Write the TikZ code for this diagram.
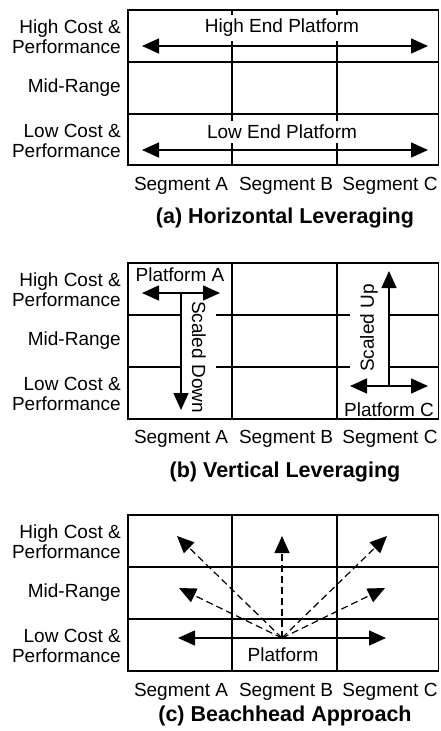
\documentclass[tikz,border=0pt]{standalone}
\usepackage{fontspec}
\setmainfont{Liberation Sans}
\usetikzlibrary{arrows.meta}
\tikzset{
    cell/.style={line width=1.6pt},
    twoway/.style={line width=1.4pt, {Triangle[length=17pt,width=15pt]}-{Triangle[length=17pt,width=15pt]}},
    oneway/.style={line width=1.4pt, -{Triangle[length=17pt,width=15pt]}},
    probe/.style={line width=1.2pt, dash pattern=on 7pt off 4pt, -{Triangle[length=17pt,width=15pt]}},
    rowlabel/.style={anchor=east, align=right, inner sep=0pt, font=\fontsize{19}{20}\selectfont},
    seglabel/.style={font=\fontsize{19}{20}\selectfont},
    tag/.style={fill=white, inner xsep=2pt, inner ysep=4pt, font=\fontsize{19}{20}\selectfont},
    panelname/.style={font=\fontsize{21.5}{24}\selectfont\bfseries},
}

\begin{document}
\begin{tikzpicture}[x=1pt, y=-1pt]
        \useasboundingbox (0,0) rectangle (440,731);
        %%% (a) horizontal leveraging
        %draw grid
        \draw[cell] (128,10) rectangle (438.5,165);
        \draw[cell] (232,10) -- (232,165);
        \draw[cell] (337,10) -- (337,165);
        \draw[cell] (128,62) -- (438.5,62);
        \draw[cell] (128,114) -- (438.5,114);
        %label rows
        \node[rowlabel] (ahigh) at (121,37) {High Cost \&\\Performance};
        \node[rowlabel] (amid) at (121,88) {Mid-Range};
        \node[rowlabel] (alow) at (121,141) {Low Cost \&\\Performance};
        %label columns
        \node[seglabel] (asega) at (181,186) {Segment A};
        \node[seglabel] (asegb) at (286,186) {Segment B};
        \node[seglabel] (asegc) at (390,186) {Segment C};
        %platforms
        \node[tag] (highend) at (282,28) {High End Platform};
        \node[tag] (lowend) at (282,132) {Low End Platform};
        \coordinate (hleft) at (142,46);
        \coordinate (hright) at (428,46);
        \coordinate (lleft) at (142,150);
        \coordinate (lright) at (428,150);
        \draw[twoway] (hleft) -- (hright);
        \draw[twoway] (lleft) -- (lright);
        \node[panelname] (acap) at (285,218) {(a) Horizontal Leveraging};

        %%% (b) vertical leveraging
        %draw grid
        \draw[cell] (128,263) rectangle (438.5,419);
        \draw[cell] (232,263) -- (232,419);
        \draw[cell] (337,263) -- (337,419);
        \draw[cell] (128,315) -- (438.5,315);
        \draw[cell] (128,367) -- (438.5,367);
        %label rows
        \node[rowlabel] (bhigh) at (121,290) {High Cost \&\\Performance};
        \node[rowlabel] (bmid) at (121,341) {Mid-Range};
        \node[rowlabel] (blow) at (121,394) {Low Cost \&\\Performance};
        %label columns
        \node[seglabel] (bsega) at (181,439) {Segment A};
        \node[seglabel] (bsegb) at (286,439) {Segment B};
        \node[seglabel] (bsegc) at (390,439) {Segment C};
        %platform A, scaled down
        \node[seglabel] (pfa) at (180,275) {Platform A};
        \node[tag, rotate=-90, inner ysep=10pt] (down) at (199,357) {Scaled Down};
        \coordinate (aleft) at (142,293);
        \coordinate (aright) at (220,293);
        \coordinate (amidtop) at (181,293);
        \coordinate (abottom) at (181,410);
        \draw[twoway] (aleft) -- (aright);
        \draw[oneway] (amidtop) -- (abottom);
        %platform C, scaled up
        \node[seglabel] (pfc) at (389,410) {Platform C};
        \node[tag, rotate=90, inner ysep=10pt] (up) at (369,328) {Scaled Up};
        \coordinate (cleft) at (350,386);
        \coordinate (cright) at (428,386);
        \coordinate (cmidbot) at (389,386);
        \coordinate (ctop) at (389,271);
        \draw[twoway] (cleft) -- (cright);
        \draw[oneway] (cmidbot) -- (ctop);
        \node[panelname] (bcap) at (285,472) {(b) Vertical Leveraging};

        %%% (c) beachhead approach
        %draw grid
        \draw[cell] (128,515) rectangle (438.5,671);
        \draw[cell] (232,515) -- (232,671);
        \draw[cell] (337,515) -- (337,671);
        \draw[cell] (128,567) -- (438.5,567);
        \draw[cell] (128,619) -- (438.5,619);
        %label rows
        \node[rowlabel] (chigh) at (121,542) {High Cost \&\\Performance};
        \node[rowlabel] (cmid) at (121,593) {Mid-Range};
        \node[rowlabel] (clow) at (121,646) {Low Cost \&\\Performance};
        %label columns
        \node[seglabel] (csega) at (181,692) {Segment A};
        \node[seglabel] (csegb) at (286,692) {Segment B};
        \node[seglabel] (csegc) at (390,692) {Segment C};
        %platform and directions
        \node[seglabel] (pf) at (283,655) {Platform};
        \coordinate (src) at (282,638);
        \coordinate (pleft) at (178,638);
        \coordinate (pright) at (386,638);
        \coordinate (tl) at (177,536);
        \coordinate (tm) at (282,536);
        \coordinate (tr) at (387,536);
        \coordinate (ml) at (179,588);
        \coordinate (mr) at (385,588);
        \draw[twoway] (pleft) -- (pright);
        \draw[probe] (src) -- (tl);
        \draw[probe] (src) -- (tm);
        \draw[probe] (src) -- (tr);
        \draw[probe] (src) -- (ml);
        \draw[probe] (src) -- (mr);
        \node[panelname] (ccap) at (285,716) {(c) Beachhead Approach};
    \end{tikzpicture}
\end{document}
